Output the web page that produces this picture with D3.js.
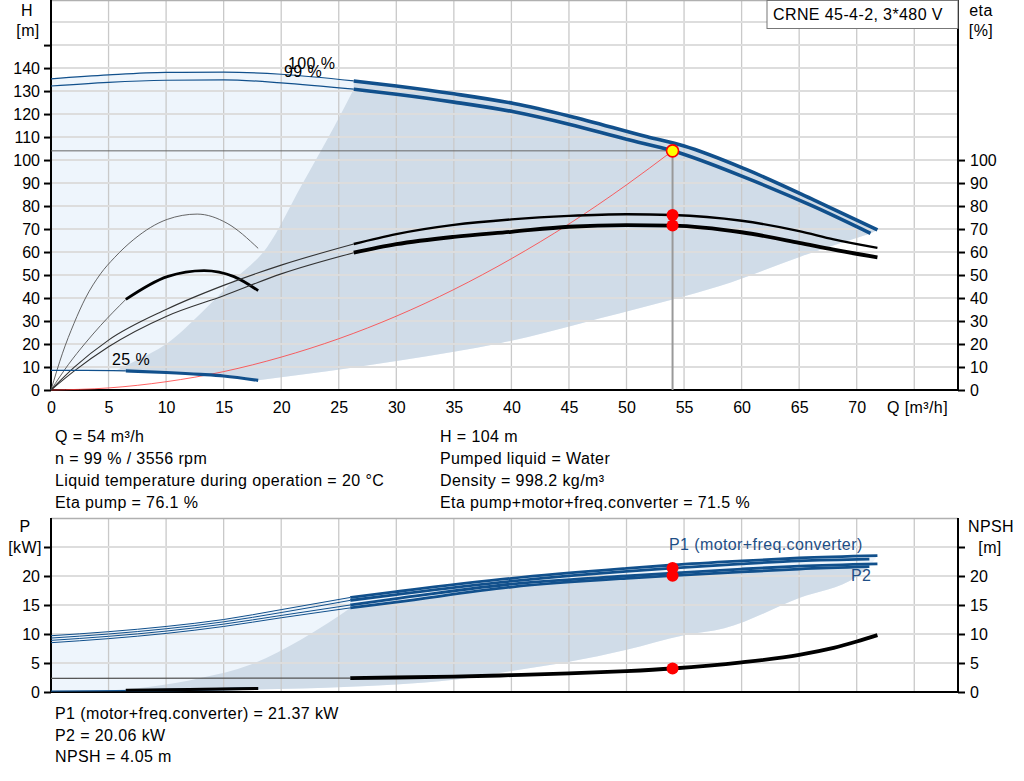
<!DOCTYPE html>
<html>
<head>
<meta charset="utf-8">
<script src="https://cdn.jsdelivr.net/npm/d3@7"></script>
<style>
	body { margin: 0; background: #fff; }
	svg text { font-family: "Liberation Sans", Arial, sans-serif; font-size: 16px; letter-spacing: 0.4px; fill: #000; }
	.axis text { letter-spacing: 0; }
	.axis path { display: none; }
	.axis line { stroke: #000; stroke-width: 2; }
</style>
</head>
<body>
<div id="chart-area"></div>
<script>

// tick values
let qTicks = [0, 5, 10, 15, 20, 25, 30, 35, 40, 45, 50, 55, 60, 65, 70];
let qGrid = [5, 10, 15, 20, 25, 30, 35, 40, 45, 50, 55, 60, 65, 70, 75];
let hTicks = [0, 10, 20, 30, 40, 50, 60, 70, 80, 90, 100, 110, 120, 130, 140, 150];
let hGrid = [10, 20, 30, 40, 50, 60, 70, 80, 90, 100, 110, 120, 130, 140, 150, 160];
let etaTicks = [0, 10, 20, 30, 40, 50, 60, 70, 80, 90, 100];
let pTicks = [0, 5, 10, 15, 20, 25];
let pGrid = [5, 10, 15, 20, 25];

// duty point
let opQ = 54, opH = 104, opEtaPump = 76.1, opEtaTotal = 71.5;
let opP1 = 21.37, opP2 = 20.06, opNpsh = 4.05;
// flow where curves switch from thin to thick
let qThick = 26.3, qThick25 = 6.5;

// head curves [Q, H]
let h100 = [[0,135.3],[5,137.0],[10,138.1],[15,138.2],[20,137.3],[26.3,134.4],[30,132.2],[35,128.8],[40.2,124.6],[45,119.2],[51.8,110.1],[55,106.1],[60.5,95.7],[66.3,82.6],[71.8,69.6]];
let h99 = [[0,132.2],[5,133.8],[10,134.7],[15,134.9],[20,133.6],[26.3,130.8],[30,128.6],[35,125.2],[40.2,121.0],[45,115.6],[50,109.0],[54,104.0],[60.5,92.0],[66.3,79.7],[71.2,68.1]];
let h25 = [[0,8.5],[3,8.5],[6.5,8.3],[10,7.6],[13,6.8],[15,6.1],[18,4.2]];
let sysCurve = [[0,0],[5,0.9],[10,3.6],[15,8.0],[20,14.3],[25,22.3],[30,32.1],[35,43.7],[40,57.1],[45,72.2],[50,89.2],[54,104]];

// efficiency curves [Q, eta]
let etaPump = [[0,0],[2,9.8],[5,21.7],[10,35.0],[15,45.5],[20,54.3],[26.3,63.5],[30,67.8],[35,71.8],[40,74.2],[45,75.7],[50,76.4],[54,76.1],[60,73.6],[65,69.1],[68,65.5],[71.8,61.8]];
let etaTotal = [[0,0],[2,8.2],[5,18.8],[10,32.0],[15,41.0],[20,50.5],[26.3,59.7],[30,63.4],[35,66.6],[40,68.8],[45,71.0],[50,71.7],[54,71.5],[60,68.6],[65,64.0],[68,61.0],[71.8,57.7]];
let etaPump25 = [[0,0],[1,16],[2,29],[3,40],[4.3,50.5],[5.5,57.5],[7.2,65.5],[10.1,74.2],[12.7,76.5],[15.3,72.5],[18,61.6]];
let etaTotal25 = [[0,0],[1.5,11],[3,20.5],[4.3,28],[6.5,39.4],[10.1,49.3],[13.3,51.9],[15.9,49.3],[18,43.2]];

// recommended range outline, head chart
let recLeftH = [[5.6,8.4],[7.2,12.3],[10.1,20.3],[13,33.3],[15.9,47.8],[18.8,62.3],[21.7,88.4],[24.6,114.5],[26.3,130.8]];
let recLowerH = [[18,4.2],[22,6.8],[26,9.6],[30.3,12.8],[35,16.6],[39,20.3],[43,25.0],[47.7,31.2],[54,39.4],[58.1,45.2],[65.1,58.0],[71.2,68.1]];

// power curves [Q, P]
let p1at100 = [[0,9.7],[5,10.4],[10,11.3],[15,12.5],[20,14.2],[26,16.3],[30,17.3],[40,19.6],[50,21.3],[54,21.9],[60,22.6],[65,23.1],[71.8,23.5]];
let p1at99 = [[0,9.3],[5,10.0],[10,10.9],[15,12.1],[20,13.7],[26,15.8],[30,16.8],[40,19.1],[50,20.8],[54,21.37],[60,22.1],[65,22.6],[71.1,22.9]];
let p2at100 = [[0,8.9],[5,9.6],[10,10.5],[15,11.7],[20,13.2],[26,15.0],[30,16.1],[40,18.6],[50,20.0],[54,20.5],[60,21.2],[65,21.7],[71.8,22.1]];
let p2at99 = [[0,8.5],[5,9.2],[10,10.1],[15,11.3],[20,12.8],[26,14.5],[30,15.5],[40,18.1],[50,19.6],[54,20.06],[60,20.7],[65,21.2],[71.1,21.6]];
let p25 = [[0,0.15],[6.5,0.25],[12,0.4],[18,0.6]];
let npsh25 = [[6.5,0.3],[12,0.45],[18,0.6]];
let npsh100 = [[0,2.36],[26,2.4],[30,2.5],[35,2.65],[40,2.9],[45,3.2],[50,3.6],[54,4.05],[60,5.1],[65,6.4],[68,7.6],[70,8.7],[71.8,9.8]];

// recommended range outline, power chart
let recLeftP = [[4.3,0.15],[8.6,0.9],[13,2.4],[17.3,4.7],[21.7,9.0],[24,11.8],[26,14.5]];
let recLowerP = [[4.3,0.15],[10,0.25],[17.3,0.4],[26,0.9],[30,1.3],[35,2.1],[40,3.6],[45,5.2],[50,7.3],[55,9.8],[58.5,11.0],[65,16.2],[70,19.9],[71.1,21.6]];

let infoLeft = ["Q = 54 m³/h", "n = 99 % / 3556 rpm", "Liquid temperature during operation = 20 °C", "Eta pump = 76.1 %"];
let infoRight = ["H = 104 m", "Pumped liquid = Water", "Density = 998.2 kg/m³", "Eta pump+motor+freq.converter = 71.5 %"];
let infoPower = ["P1 (motor+freq.converter) = 21.37 kW", "P2 = 20.06 kW", "NPSH = 4.05 m"];

let blue = "#11508c";
let lightFill = "#eef5fc";
let darkFill = "#d0dce8";

let svg = d3.select("#chart-area").append("svg")
	.attr("width", 1024)
	.attr("height", 781);

let x = d3.scaleLinear().domain([0, 78.8]).range([51, 958]);
let yH = d3.scaleLinear().domain([0, 169.6]).range([390, 0]);
let yP = d3.scaleLinear().domain([0, 30]).range([692, 518]);

function curvePath(pts, y) {
	return d3.line()
		.x(d => x(d[0]))
		.y(d => y(d[1]))
		.curve(d3.curveMonotoneX)(pts);
}

// join several curve pieces into one closed outline
function regionPath(parts, y) {
	return parts.map((p, i) => {
		let s = curvePath(p, y);
		return i ? "L" + s.slice(1) : s;
	}).join("") + "Z";
}

function part(pts, from, to) {
	return pts.filter(d => d[0] >= from && d[0] <= to);
}

function drawCurve(pts, y, color, w) {
	svg.append("path")
		.attr("d", curvePath(pts, y))
		.attr("fill", "none")
		.attr("stroke", color)
		.attr("stroke-width", w)
		.attr("stroke-linejoin", "round");
}

function drawGrid(y, hVals) {
	let g = svg.append("g");
	g.selectAll(".gv").data(qGrid).enter().append("line")
		.attr("x1", d => x(d)).attr("x2", d => x(d))
		.attr("y1", y.range()[1]).attr("y2", y.range()[0])
		.attr("stroke", "#c9c9c9").attr("stroke-width", 1.3);
	g.selectAll(".gh").data(hVals).enter().append("line")
		.attr("x1", x.range()[0]).attr("x2", x.range()[1])
		.attr("y1", d => y(d)).attr("y2", d => y(d))
		.attr("stroke", "#dddddd").attr("stroke-width", 2);
}

function drawFrame(y) {
	let x0 = x.range()[0], x1 = x.range()[1], yb = y.range()[0], yt = y.range()[1];
	svg.append("line").attr("x1", x0).attr("x2", x1).attr("y1", yt + 0.5).attr("y2", yt + 0.5)
		.attr("stroke", "#b0b0b0").attr("stroke-width", 1.5);
	svg.append("line").attr("x1", x0).attr("x2", x1).attr("y1", yb).attr("y2", yb)
		.attr("stroke", "#000").attr("stroke-width", 2);
	svg.append("line").attr("x1", x0).attr("x2", x0).attr("y1", yt).attr("y2", yb)
		.attr("stroke", "#000").attr("stroke-width", 2);
	svg.append("line").attr("x1", x1).attr("x2", x1).attr("y1", yt).attr("y2", yb)
		.attr("stroke", "#000").attr("stroke-width", 2);
}

// ---------- head / efficiency chart ----------

svg.append("path")
	.attr("d", regionPath([h100, recLowerH.slice().reverse(), h25.slice().reverse()], yH))
	.attr("fill", lightFill);

svg.append("path")
	.attr("d", regionPath([part(h100, qThick, 99), recLowerH.slice().reverse(),
		part(h25, 5.6, 99).reverse(), recLeftH], yH))
	.attr("fill", darkFill);

drawGrid(yH, hGrid);
drawFrame(yH);

svg.append("g").attr("class", "axis")
	.attr("transform", "translate(51,0)")
	.call(d3.axisLeft(yH).tickValues(hTicks).tickSize(7).tickPadding(4)
		.tickFormat(d => d > 140 ? "" : d));

svg.append("g").attr("class", "axis")
	.attr("transform", "translate(958,0)")
	.call(d3.axisRight(yH).tickValues(etaTicks).tickSize(7).tickPadding(5));

svg.append("g").attr("class", "axis")
	.attr("transform", "translate(0,390)")
	.call(d3.axisBottom(x).tickValues(qTicks).tickSize(0).tickPadding(12));

// duty point guide lines
svg.append("line")
	.attr("x1", x(0)).attr("x2", x(opQ)).attr("y1", yH(opH)).attr("y2", yH(opH))
	.attr("stroke", "#666").attr("stroke-width", 1);
svg.append("line")
	.attr("x1", x(opQ)).attr("x2", x(opQ)).attr("y1", yH(opH)).attr("y2", yH(0))
	.attr("stroke", "#999").attr("stroke-width", 2);

// system curve
drawCurve(sysCurve, yH, "#ff3c3c", 0.8);

// efficiency
drawCurve(part(etaPump25, 0, 99), yH, "#555", 0.9);
drawCurve(part(etaTotal25, 0, qThick25), yH, "#555", 0.9);
drawCurve(part(etaTotal25, qThick25, 99), yH, "#000", 2.8);
drawCurve(part(etaPump, 0, qThick), yH, "#333", 1.1);
drawCurve(part(etaTotal, 0, qThick), yH, "#333", 1.1);
drawCurve(part(etaPump, qThick, 99), yH, "#000", 2.4);
drawCurve(part(etaTotal, qThick, 99), yH, "#000", 3.8);

// head
drawCurve(part(h100, 0, qThick), yH, blue, 1.2);
drawCurve(part(h99, 0, qThick), yH, blue, 1.2);
drawCurve(part(h100, qThick, 99), yH, blue, 3.6);
drawCurve(part(h99, qThick, 99), yH, blue, 3.6);
drawCurve(part(h25, 0, qThick25), yH, blue, 1.2);
drawCurve(part(h25, qThick25, 99), yH, blue, 3.2);

// duty point markers
svg.selectAll(".etaDot").data([opEtaPump, opEtaTotal]).enter().append("circle")
	.attr("cx", x(opQ)).attr("cy", d => yH(d)).attr("r", 6).attr("fill", "#ff0000");
svg.append("circle")
	.attr("cx", x(opQ)).attr("cy", yH(opH)).attr("r", 6)
	.attr("fill", "#ffff00").attr("stroke", "#ff0000").attr("stroke-width", 1.6);

// curve labels (overlapping in the original as well)
svg.append("text").attr("x", 288).attr("y", 69).text("100 %");
svg.append("text").attr("x", 284).attr("y", 77).text("99 %");
svg.append("text").attr("x", 112).attr("y", 365).text("25 %");

// axis titles
svg.append("text").attr("x", 27).attr("y", 16).attr("text-anchor", "middle").text("H");
svg.append("text").attr("x", 28).attr("y", 36).attr("text-anchor", "middle").text("[m]");
svg.append("text").attr("x", 981).attr("y", 16).attr("text-anchor", "middle").text("eta");
svg.append("text").attr("x", 981).attr("y", 36).attr("text-anchor", "middle").text("[%]");
svg.append("text").attr("x", 887).attr("y", 413).text("Q [m³/h]");

// title box
svg.append("rect").attr("x", 767).attr("y", 0.5).attr("width", 191).attr("height", 28)
	.attr("fill", "#fff").attr("stroke", "#777").attr("stroke-width", 1);
svg.append("text").attr("x", 773).attr("y", 20).text("CRNE 45-4-2, 3*480 V");

// duty point text
svg.selectAll(".infoL").data(infoLeft).enter().append("text")
	.attr("x", 55).attr("y", (d, i) => 442 + i * 22).text(d => d);
svg.selectAll(".infoR").data(infoRight).enter().append("text")
	.attr("x", 440).attr("y", (d, i) => 442 + i * 22).text(d => d);

// ---------- power / NPSH chart ----------

svg.append("path")
	.attr("d", regionPath([p1at100, recLowerP.slice().reverse(), [[4.3,0.15],[0,0.15]]], yP))
	.attr("fill", lightFill);

svg.append("path")
	.attr("d", regionPath([part(p2at99, 26, 99), recLowerP.slice().reverse(), recLeftP], yP))
	.attr("fill", darkFill);

drawGrid(yP, pGrid);
drawFrame(yP);

svg.append("g").attr("class", "axis")
	.attr("transform", "translate(51,0)")
	.call(d3.axisLeft(yP).tickValues(pTicks).tickSize(7).tickPadding(4)
		.tickFormat(d => d > 20 ? "" : d));

svg.append("g").attr("class", "axis")
	.attr("transform", "translate(958,0)")
	.call(d3.axisRight(yP).tickValues(pTicks).tickSize(7).tickPadding(5)
		.tickFormat(d => d > 20 ? "" : d));

// npsh
drawCurve(part(npsh100, 0, 26), yP, "#555", 1.2);
drawCurve(part(npsh100, 26, 99), yP, "#000", 3.8);

// power
[p1at100, p1at99, p2at100, p2at99].forEach(c => {
	drawCurve(part(c, 0, 26), yP, blue, 1);
	drawCurve(part(c, 26, 99), yP, blue, 2.8);
});
drawCurve(part(p25, 0, qThick25), yP, blue, 1.2);
drawCurve(part(p25, qThick25, 99), yP, blue, 2.5);
drawCurve(npsh25, yP, "#000", 3);

svg.selectAll(".pDot").data([opP1, opP2, opNpsh]).enter().append("circle")
	.attr("cx", x(opQ)).attr("cy", d => yP(d)).attr("r", 6).attr("fill", "#ff0000");

svg.append("text").attr("x", 669).attr("y", 550).style("fill", "#1f4f86").text("P1 (motor+freq.converter)");
svg.append("text").attr("x", 851).attr("y", 581).style("fill", "#1f4f86").text("P2");

svg.append("text").attr("x", 25).attr("y", 532).attr("text-anchor", "middle").text("P");
svg.append("text").attr("x", 25).attr("y", 553).attr("text-anchor", "middle").text("[kW]");
svg.append("text").attr("x", 991).attr("y", 532).attr("text-anchor", "middle").text("NPSH");
svg.append("text").attr("x", 990).attr("y", 553).attr("text-anchor", "middle").text("[m]");

svg.selectAll(".infoP").data(infoPower).enter().append("text")
	.attr("x", 55).attr("y", (d, i) => 719 + i * 21.5).text(d => d);

</script>
</body>
</html>
